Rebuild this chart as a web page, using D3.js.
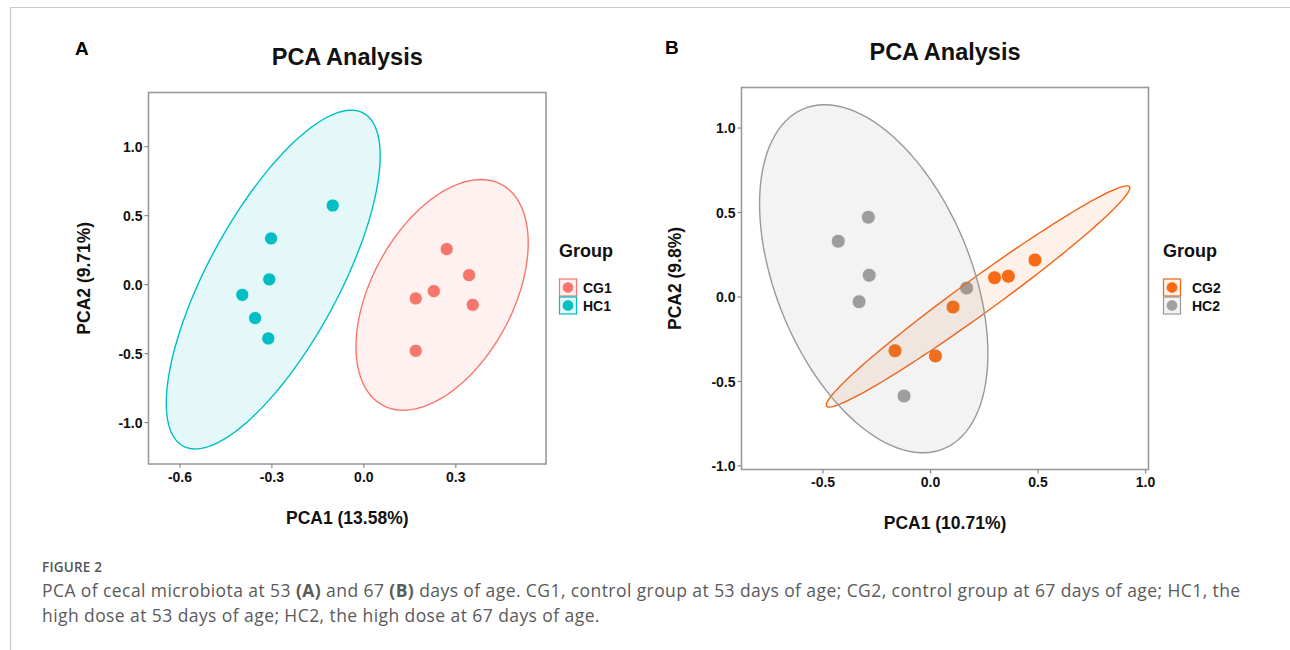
<!DOCTYPE html>
<html><head><meta charset="utf-8">
<script src="https://cdn.jsdelivr.net/npm/d3@7"></script>
<style>
html,body{margin:0;padding:0;background:#fff;}
svg{display:block;}
</style></head>
<body>
<svg id="c" width="1290" height="650"></svg>
<script>
// ---------- DATA ----------
// Panel A (53 days)
const cg1X = [0.272, 0.345, 0.230, 0.171, 0.357, 0.171];
const cg1Y = [0.254, 0.065, -0.051, -0.104, -0.150, -0.483];
const hc1X = [-0.100, -0.301, -0.307, -0.395, -0.353, -0.310];
const hc1Y = [0.570, 0.331, 0.034, -0.078, -0.246, -0.394];
// Panel B (67 days)
const cg2X = [0.488, 0.300, 0.364, 0.107, -0.163, 0.025];
const cg2Y = [0.216, 0.111, 0.120, -0.062, -0.321, -0.352];
const hc2X = [-0.287, -0.427, -0.283, -0.330, 0.170, -0.121];
const hc2Y = [0.469, 0.327, 0.126, -0.031, 0.050, -0.589];
// Confidence ellipses: [centerX, centerY, sdX, sdY, correlation]
const ellCG1 = [0.257, -0.078, 0.281, 0.836, 0.45];
const ellHC1 = [-0.294, 0.033, 0.349, 1.228, 0.73];
const ellCG2 = [0.223, 0.000, 0.706, 0.655, 0.981];
const ellHC2 = [-0.262, 0.105, 0.531, 1.030, -0.43];
// Axes
const domainAX = [-0.701, 0.596], domainAY = [-1.304, 1.389];
const domainBX = [-0.877, 1.016], domainBY = [-1.024, 1.237];
const ticksAX = [-0.6, -0.3, 0.0, 0.3];
const ticksAY = [-1.0, -0.5, 0.0, 0.5, 1.0];
const ticksBX = [-0.5, 0.0, 0.5, 1.0];
const ticksBY = [-1.0, -0.5, 0.0, 0.5, 1.0];
const groupsA = ["CG1", "HC1"];
const groupsB = ["CG2", "HC2"];
const colorsA = ["#F8766D", "#00BFC4"];
const colorsB = ["#FA6A12", "#A0A0A0"];
const ellFillB = ["#F07A2A", "#8C8C8C"];
const ellStrokeB = ["#F46413", "#999999"];
const xTitleA = "PCA1 (13.58%)", yTitleA = "PCA2 (9.71%)";
const xTitleB = "PCA1 (10.71%)", yTitleB = "PCA2 (9.8%)";
const captionHead = "FIGURE 2";

// ---------- DRAW ----------
const svg = d3.select("#c");
const FONT = "Liberation Sans, Arial, Helvetica, sans-serif";

// page frame
svg.append("line").attr("x1",10).attr("x2",1290).attr("y1",7.5).attr("y2",7.5).attr("stroke","#c9c9c9").attr("stroke-width",1.2);
svg.append("line").attr("x1",10.5).attr("x2",10.5).attr("y1",7).attr("y2",650).attr("stroke","#c9c9c9").attr("stroke-width",1.2);

const fmt = v => d3.format(".1f")(v).replace("\u2212","-");

function ellipsePts(e, n=120){
  const [cx,cy,sx,sy,r] = e;
  return d3.range(n+1).map(i=>{
    const t = 2*Math.PI*i/n;
    return [cx + sx*Math.cos(t), cy + r*sy*Math.cos(t) + sy*Math.sqrt(1-r*r)*Math.sin(t)];
  });
}

function panel(cfg){
  const g = svg.append("g");
  const x = d3.scaleLinear().domain(cfg.dx).range(cfg.rx);
  const y = d3.scaleLinear().domain(cfg.dy).range(cfg.ry);
  g.append("text").attr("x",cfg.letterX).attr("y",cfg.letterY).text(cfg.letter)
    .attr("font-family",FONT).attr("font-weight","bold").attr("font-size",19).attr("fill","#000");
  g.append("text").attr("x",(cfg.rx[0]+cfg.rx[1])/2).attr("y",cfg.titleY).attr("text-anchor","middle")
    .text("PCA Analysis").attr("font-family",FONT).attr("font-weight","bold").attr("font-size",23.5).attr("fill","#111");
  g.append("rect").attr("x",cfg.rx[0]).attr("y",cfg.ry[1]).attr("width",cfg.rx[1]-cfg.rx[0]).attr("height",cfg.ry[0]-cfg.ry[1]).attr("fill","#fff");
  cfg.series.forEach(s=>{
    g.append("g").selectAll("circle").data(s.xs.map((v,i)=>[v,s.ys[i]])).join("circle")
      .attr("cx",d=>x(d[0])).attr("cy",d=>y(d[1])).attr("r",cfg.pr)
      .attr("fill",s.color).attr("stroke","#fff").attr("stroke-width",0.9);
  });
  const line = d3.line().x(d=>x(d[0])).y(d=>y(d[1])).curve(d3.curveLinearClosed);
  cfg.series.forEach(s=>{
    g.append("path").attr("d",line(ellipsePts(s.ell))).attr("fill",s.efill).attr("fill-opacity",0.1)
      .attr("stroke",s.estroke).attr("stroke-width",1.4);
  });
  g.append("rect").attr("x",cfg.rx[0]).attr("y",cfg.ry[1]).attr("width",cfg.rx[1]-cfg.rx[0]).attr("height",cfg.ry[0]-cfg.ry[1])
    .attr("fill","none").attr("stroke","#9a9a9a").attr("stroke-width",1.6);
  const ax = g.append("g").attr("transform",`translate(0,${cfg.ry[0]})`)
    .call(d3.axisBottom(x).tickValues(cfg.tx).tickFormat(fmt).tickSize(4).tickPadding(4));
  const ay = g.append("g").attr("transform",`translate(${cfg.rx[0]},0)`)
    .call(d3.axisLeft(y).tickValues(cfg.ty).tickFormat(fmt).tickSize(4).tickPadding(2));
  [ax,ay].forEach(a=>{
    a.select(".domain").remove();
    a.selectAll(".tick line").attr("stroke","#8a8a8a").attr("stroke-width",1.2);
    a.selectAll(".tick text").attr("font-family",FONT).attr("font-weight","bold").attr("font-size",14).attr("fill","#111");
  });
  ay.selectAll(".tick text").attr("dy","0.36em");
  g.append("text").attr("x",(cfg.rx[0]+cfg.rx[1])/2).attr("y",cfg.xTitleY).attr("text-anchor","middle").text(cfg.xTitle)
    .attr("font-family",FONT).attr("font-weight","bold").attr("font-size",17.5).attr("fill","#111");
  g.append("text").attr("transform",`translate(${cfg.yTitleX},${(cfg.ry[0]+cfg.ry[1])/2}) rotate(-90)`).attr("text-anchor","middle").text(cfg.yTitle)
    .attr("font-family",FONT).attr("font-weight","bold").attr("font-size",17.5).attr("fill","#111");
  const lg = g.append("g").attr("transform",`translate(${cfg.legX},${cfg.legY})`);
  lg.append("text").attr("x",0).attr("y",0).text("Group").attr("font-family",FONT).attr("font-weight","bold").attr("font-size",18).attr("fill","#111");
  cfg.series.forEach((s,i)=>{
    const yy = 22 + i*18;
    lg.append("rect").attr("x",0.5).attr("y",yy).attr("width",17).attr("height",17)
      .attr("fill",s.efill).attr("fill-opacity",0.1).attr("stroke",s.estroke).attr("stroke-width",1.2);
    lg.append("circle").attr("cx",9).attr("cy",yy+8.5).attr("r",5.8).attr("fill",s.color).attr("stroke","#fff").attr("stroke-width",0.8);
    lg.append("text").attr("x",cfg.legTextDX).attr("y",yy+8.5).attr("dy","0.36em").text(s.name)
      .attr("font-family",FONT).attr("font-weight","bold").attr("font-size",14).attr("fill","#111");
  });
}

panel({
  letter:"A", letterX:75, letterY:55, titleY:65,
  dx:domainAX, dy:domainAY, rx:[148.5,546], ry:[464,92.5], tx:ticksAX, ty:ticksAY, pr:6.6,
  xTitle:xTitleA, yTitle:yTitleA, xTitleY:524, yTitleX:90,
  legX:559, legY:257, legTextDX:24,
  series:[
    {name:groupsA[0], xs:cg1X, ys:cg1Y, color:colorsA[0], efill:colorsA[0], estroke:colorsA[0], ell:ellCG1},
    {name:groupsA[1], xs:hc1X, ys:hc1Y, color:colorsA[1], efill:colorsA[1], estroke:colorsA[1], ell:ellHC1}
  ]
});
panel({
  letter:"B", letterX:665, letterY:54, titleY:60,
  dx:domainBX, dy:domainBY, rx:[741.5,1148.5], ry:[469.5,87.5], tx:ticksBX, ty:ticksBY, pr:7,
  xTitle:xTitleB, yTitle:yTitleB, xTitleY:529, yTitleX:681,
  legX:1163, legY:257, legTextDX:29,
  series:[
    {name:groupsB[0], xs:cg2X, ys:cg2Y, color:colorsB[0], efill:ellFillB[0], estroke:ellStrokeB[0], ell:ellCG2},
    {name:groupsB[1], xs:hc2X, ys:hc2Y, color:colorsB[1], efill:ellFillB[1], estroke:ellStrokeB[1], ell:ellHC2}
  ]
});

// caption
const CF = "Open Sans, Noto Sans, sans-serif";
svg.append("text").attr("x",42).attr("y",572).text(captionHead).attr("font-family",CF).attr("font-weight",600)
  .attr("font-size",13.5).attr("fill","#555").attr("letter-spacing",0.2);
const cap = svg.append("text").attr("font-family",CF).attr("font-size",17.5).attr("fill","#5a5a5a").attr("letter-spacing",0.42);
const l1 = cap.append("tspan").attr("x",42).attr("y",597);
l1.append("tspan").text("PCA of cecal microbiota at 53 ");
l1.append("tspan").attr("font-weight","bold").text("(A)");
l1.append("tspan").text(" and 67 ");
l1.append("tspan").attr("font-weight","bold").text("(B)");
l1.append("tspan").text(" days of age. CG1, control group at 53 days of age; CG2, control group at 67 days of age; HC1, the");
cap.append("tspan").attr("x",42).attr("y",622).text("high dose at 53 days of age; HC2, the high dose at 67 days of age.");
</script>
</body></html>
